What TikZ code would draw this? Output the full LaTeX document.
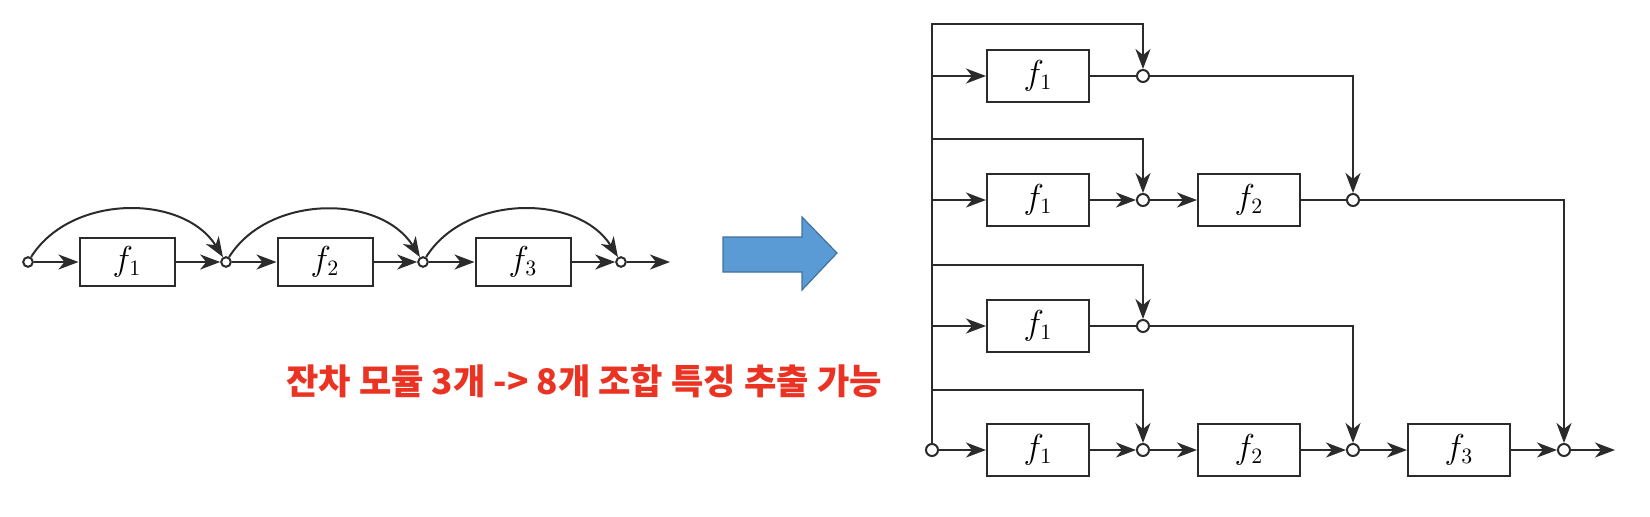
\documentclass[tikz,border=0pt]{standalone}
\usepackage{fontspec}
\newfontfamily\krfont{Noto Sans CJK KR}
\usepackage{tikz}
\definecolor{lineGray}{HTML}{2B2B2B}
\definecolor{arrowBlue}{HTML}{5B9BD5}
\definecolor{arrowBlueDarker}{HTML}{41719C}
\definecolor{noteRed}{HTML}{EA3323}
\usetikzlibrary{arrows.meta}

\begin{document}
\begin{tikzpicture}[x=0.5pt, y=-0.5pt,
    wire/.style={draw=lineGray, line width=1pt},
    flow/.style={wire, -{Stealth[length=10pt, width=7.5pt, inset=3pt]}},
    block/.style={draw=lineGray, line width=1pt, fill=white, inner sep=0pt,
      minimum width=51pt, minimum height=26pt, font=\fontsize{16}{19}\selectfont},
    smallblock/.style={block, minimum width=47.5pt, minimum height=24pt},
    sum/.style={circle, draw=lineGray, line width=1pt, fill=white, inner sep=0pt, minimum size=6pt},
    smallsum/.style={sum, minimum size=4.8pt}]
  \useasboundingbox (0,0) rectangle (1650,516);

  % left: three residual blocks in a chain
  \node[smallsum] (l0) at (28,262) {};
  \node[smallsum] (l1) at (226,262) {};
  \node[smallsum] (l2) at (423,262) {};
  \node[smallsum] (l3) at (621,262) {};
  \node[smallblock] (lf1) at (127,262) {$f_1$};
  \node[smallblock] (lf2) at (325,262) {$f_2$};
  \node[smallblock] (lf3) at (523,262) {$f_3$};
  \coordinate (lout) at (670,262);

  \draw[flow] (l0) -- (lf1);
  \draw[flow] (lf1) -- (l1);
  \draw[flow] (l1) -- (lf2);
  \draw[flow] (lf2) -- (l2);
  \draw[flow] (l2) -- (lf3);
  \draw[flow] (lf3) -- (l3);
  \draw[flow] (l3) -- (lout);
  \draw[flow] (l0) to[out=58, in=122] (l1);
  \draw[flow] (l1) to[out=58, in=122] (l2);
  \draw[flow] (l2) to[out=58, in=122] (l3);

  % big blue arrow
  \draw[fill=arrowBlue, draw=arrowBlueDarker, line width=0.6pt]
    (723,237) -- (802,237) -- (802,217) -- (837,253) -- (802,290) -- (802,272) -- (723,272) -- cycle;

  \node[text=noteRed, font=\krfont\bfseries\fontsize{17.6}{20}\selectfont] (note) at (584,381)
    {잔차 모듈 3개 -> 8개 조합 특징 추출 가능};

  % right: unrolled paths
  \node[sum] (r0) at (932,450) {};
  \coordinate (top) at (932,24);
  \coordinate (t1) at (932,76);
  \coordinate (t2) at (932,200);
  \coordinate (t3) at (932,326);
  \coordinate (s2) at (932,139);
  \coordinate (s3) at (932,265);
  \coordinate (s4) at (932,390);
  \coordinate (rout) at (1615,450);

  \node[block] (f1a) at (1038,76) {$f_1$};
  \node[block] (f1b) at (1038,200) {$f_1$};
  \node[block] (f1c) at (1038,326) {$f_1$};
  \node[block] (f1d) at (1038,450) {$f_1$};
  \node[block] (f2b) at (1249,200) {$f_2$};
  \node[block] (f2d) at (1249,450) {$f_2$};
  \node[block] (f3d) at (1459,450) {$f_3$};

  \node[sum] (a1) at (1143,76) {};
  \node[sum] (a2) at (1143,200) {};
  \node[sum] (a3) at (1143,326) {};
  \node[sum] (a4) at (1143,450) {};
  \node[sum] (b2) at (1353,200) {};
  \node[sum] (b4) at (1353,450) {};
  \node[sum] (c4) at (1564,450) {};

  \draw[flow] (r0) -- (top) -| (a1);
  \draw[flow] (t1) -- (f1a);
  \draw[wire] (f1a) -- (a1);
  \draw[flow] (a1) -| (b2);

  \draw[flow] (t2) -- (f1b);
  \draw[flow] (f1b) -- (a2);
  \draw[flow] (s2) -| (a2);
  \draw[flow] (a2) -- (f2b);
  \draw[wire] (f2b) -- (b2);
  \draw[flow] (b2) -| (c4);

  \draw[flow] (t3) -- (f1c);
  \draw[wire] (f1c) -- (a3);
  \draw[flow] (s3) -| (a3);
  \draw[flow] (a3) -| (b4);

  \draw[flow] (r0) -- (f1d);
  \draw[flow] (f1d) -- (a4);
  \draw[flow] (s4) -| (a4);
  \draw[flow] (a4) -- (f2d);
  \draw[flow] (f2d) -- (b4);
  \draw[flow] (b4) -- (f3d);
  \draw[flow] (f3d) -- (c4);
  \draw[flow] (c4) -- (rout);
\end{tikzpicture}
\end{document}
